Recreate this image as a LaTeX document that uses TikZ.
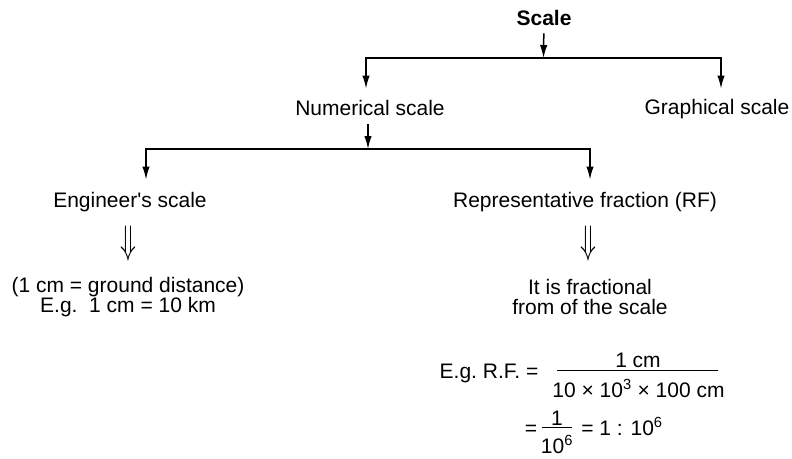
\documentclass[tikz,border=0pt]{standalone}
\usepackage{graphicx}
\usepackage{fontspec}
\setmainfont{Liberation Sans}
\usetikzlibrary{positioning,arrows.meta}

\begin{document}
\begin{tikzpicture}[x=1pt,y=-1pt,
			txt/.style={inner sep=0pt, font=\fontsize{21}{20.5}\selectfont, align=center},
			implies/.style={inner sep=0pt, font=\fontsize{30}{30}\selectfont},
			arrow/.style={-{Latex[length=13pt,width=7.5pt]}, line width=1.5pt},
			fracbar/.style={line width=1.2pt}
		]
		\useasboundingbox (0,0) rectangle (792,458);

		\node[txt, font=\fontsize{21}{20.5}\selectfont\bfseries, anchor=base] (scale) at (544,25) {Scale};
		\node[txt, anchor=base] (numerical) at (370,115) {Numerical scale};
		\node[txt, anchor=base] (graphical) at (717,114) {Graphical scale};
		\node[txt, anchor=base] (engineer) at (130,207) {Engineer\textquotesingle s scale};
		\node[txt, anchor=base] (rf) at (585,207) {Representative fraction (RF)};

		\node[implies] (engimp) at (128,244) {\scalebox{1.05}[1.6]{$\Downarrow$}};
		\node[implies] (rfimp) at (588,244) {\scalebox{1.05}[1.6]{$\Downarrow$}};

		\node[txt] (engnote) at (128,297) {(1 cm = ground distance)\\E.g.\ \ 1 cm = 10 km};
		\node[txt] (rfnote) at (590,297) {It is fractional\\from of the scale};

		% worked example
		\node[txt, anchor=base] (egrf) at (489,378.5) {E.g.\ R.F. =};
		\node[txt, anchor=base] (rfnum) at (638,367.5) {1 cm};
		\node[txt, anchor=base] (rfden) at (638.5,397.5) {10 × 10\textsuperscript{3} × 100 cm};
		\draw[fracbar] ([xshift=-81pt,yshift=-2.5pt]rfnum.south) -- ([xshift=80pt,yshift=-2.5pt]rfnum.south);

		\node[txt, anchor=base] (eqa) at (531,435.5) {=};
		\node[txt, anchor=base] (one) at (557,425.5) {1};
		\node[txt, anchor=base] (mil) at (557,453) {10\textsuperscript{6}};
		\draw[fracbar] ([xshift=-15pt,yshift=-1.5pt]one.south) -- ([xshift=15pt,yshift=-1.5pt]one.south);
		\node[txt, anchor=base] (ratio) at (622,435.5) {= 1 : 10\textsuperscript{6}};

		% first level
		\coordinate (top) at (543.5,58);
		\draw[arrow, shorten <=8pt] (scale) -- (top);
		\draw[arrow, shorten >=11pt] (top) -| ([xshift=-4pt]numerical.north);
		\draw[arrow, shorten >=10pt] (top) -| ([xshift=4pt]graphical.north);

		% second level
		\coordinate (mid) at (368,149);
		\draw[arrow, shorten <=9pt] (numerical.south -| mid) -- (mid);
		\draw[arrow, shorten >=12pt] (mid) -| ([xshift=16pt]engineer.north);
		\draw[arrow, shorten >=12pt] (mid) -| ([xshift=5pt]rf.north);
	\end{tikzpicture}
\end{document}
